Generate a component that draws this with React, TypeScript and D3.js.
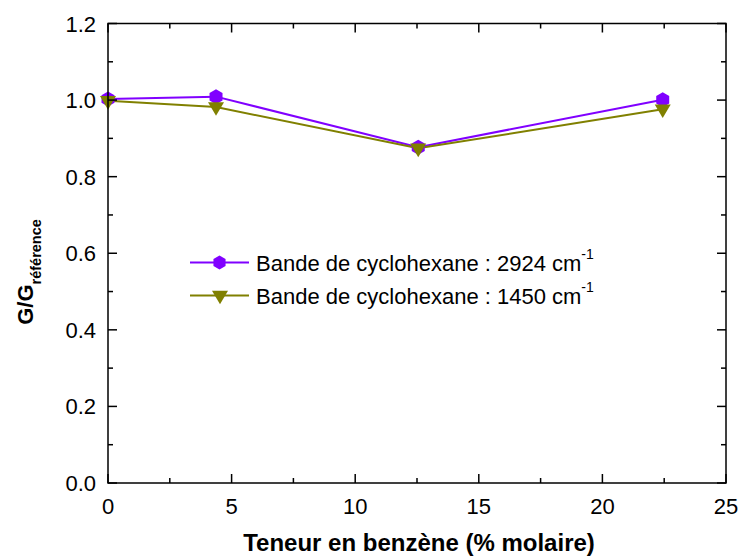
import React from "react";
import * as d3 from "d3";

const xValues = [0, 4.37, 12.55, 22.44];
const series2924 = [1.003, 1.009, 0.877, 1.001];
const series1450 = [0.998, 0.982, 0.874, 0.976];
const xTicks = [0, 5, 10, 15, 20, 25];
const yTicks = [0, 0.2, 0.4, 0.6, 0.8, 1.0, 1.2];
const legendLabels = ["Bande de cyclohexane : 2924 cm", "Bande de cyclohexane : 1450 cm"];

const W = 742, H = 558;
const M = { left: 108, right: 726, top: 23.5, bottom: 483 };
const PURPLE = "#8000FF";
const OLIVE = "#808000";
const FONT = "Arial, 'Liberation Sans', sans-serif";

export default function App() {
  const x = d3.scaleLinear().domain([0, 25]).range([M.left, M.right]);
  const y = d3.scaleLinear().domain([0, 1.2]).range([M.bottom, M.top]);
  const line = d3.line<number>().x((_, i) => x(xValues[i])).y((d) => y(d));
  const xMinor = d3.range(0, 25.01, 2.5);
  const yMinor = d3.range(0, 1.201, 0.1);

  const hexagon = (cx: number, cy: number, r: number) =>
    d3.range(6).map((k) => {
      const a = (Math.PI / 3) * k - Math.PI / 2;
      return `${cx + r * Math.cos(a)},${cy + r * Math.sin(a)}`;
    }).join(" ");
  const triangle = (cx: number, cy: number, s: number) =>
    `${cx - s},${cy - s * 0.6} ${cx + s},${cy - s * 0.6} ${cx},${cy + s * 1.1}`;

  return (
    <svg width={W} height={H} style={{ position: "absolute", left: 0, top: 0, background: "#fff" }} fontFamily={FONT}>
      <path d={line(series2924) || ""} fill="none" stroke={PURPLE} strokeWidth={2} />
      <path d={line(series1450) || ""} fill="none" stroke={OLIVE} strokeWidth={2} />
      {series2924.map((v, i) => (
        <polygon key={"p" + i} points={hexagon(x(xValues[i]), y(v), 7.5)} fill={PURPLE} />
      ))}
      {series1450.map((v, i) => (
        <polygon key={"o" + i} points={triangle(x(xValues[i]), y(v), 8)} fill={OLIVE} />
      ))}
      <rect x={M.left} y={M.top} width={M.right - M.left} height={M.bottom - M.top} fill="none" stroke="#000" strokeWidth={1.5} />
      {xMinor.map((t, i) => {
        const len = i % 2 === 0 ? 9 : 5;
        return (
          <g key={"xt" + i}>
            <line x1={x(t)} x2={x(t)} y1={M.bottom} y2={M.bottom - len} stroke="#000" strokeWidth={1.5} />
            <line x1={x(t)} x2={x(t)} y1={M.top} y2={M.top + len} stroke="#000" strokeWidth={1.5} />
          </g>
        );
      })}
      {yMinor.map((t, i) => {
        const len = i % 2 === 0 ? 9 : 5;
        return (
          <g key={"yt" + i}>
            <line x1={M.left} x2={M.left + len} y1={y(t)} y2={y(t)} stroke="#000" strokeWidth={1.5} />
            <line x1={M.right} x2={M.right - len} y1={y(t)} y2={y(t)} stroke="#000" strokeWidth={1.5} />
          </g>
        );
      })}
      {xTicks.map((t) => (
        <text key={"xl" + t} x={x(t)} y={M.bottom + 31} textAnchor="middle" fontSize={22}>{t}</text>
      ))}
      {yTicks.map((t) => (
        <text key={"yl" + t} x={96} y={y(t) + 8} textAnchor="end" fontSize={22}>{t.toFixed(1)}</text>
      ))}
      <text x={419} y={551} textAnchor="middle" fontSize={24} fontWeight="bold">Teneur en benzène (% molaire)</text>
      <text transform={`translate(33, 272) rotate(-90)`} textAnchor="middle" fontSize={22} fontWeight="bold">
        G/G<tspan fontSize={14.5} dy={8}>référence</tspan>
      </text>
      {legendLabels.map((lab, i) => {
        const ly = 262.5 + i * 33;
        const col = i === 0 ? PURPLE : OLIVE;
        return (
          <g key={"lg" + i}>
            <line x1={190} x2={249} y1={ly} y2={ly} stroke={col} strokeWidth={2} />
            {i === 0 ? (
              <polygon points={hexagon(219.5, ly, 7)} fill={col} />
            ) : (
              <polygon points={triangle(220, ly, 8)} fill={col} />
            )}
            <text x={256} y={ly + 8} fontSize={22}>
              {lab}
              <tspan fontSize={14} dy={-12}>-1</tspan>
            </text>
          </g>
        );
      })}
    </svg>
  );
}
